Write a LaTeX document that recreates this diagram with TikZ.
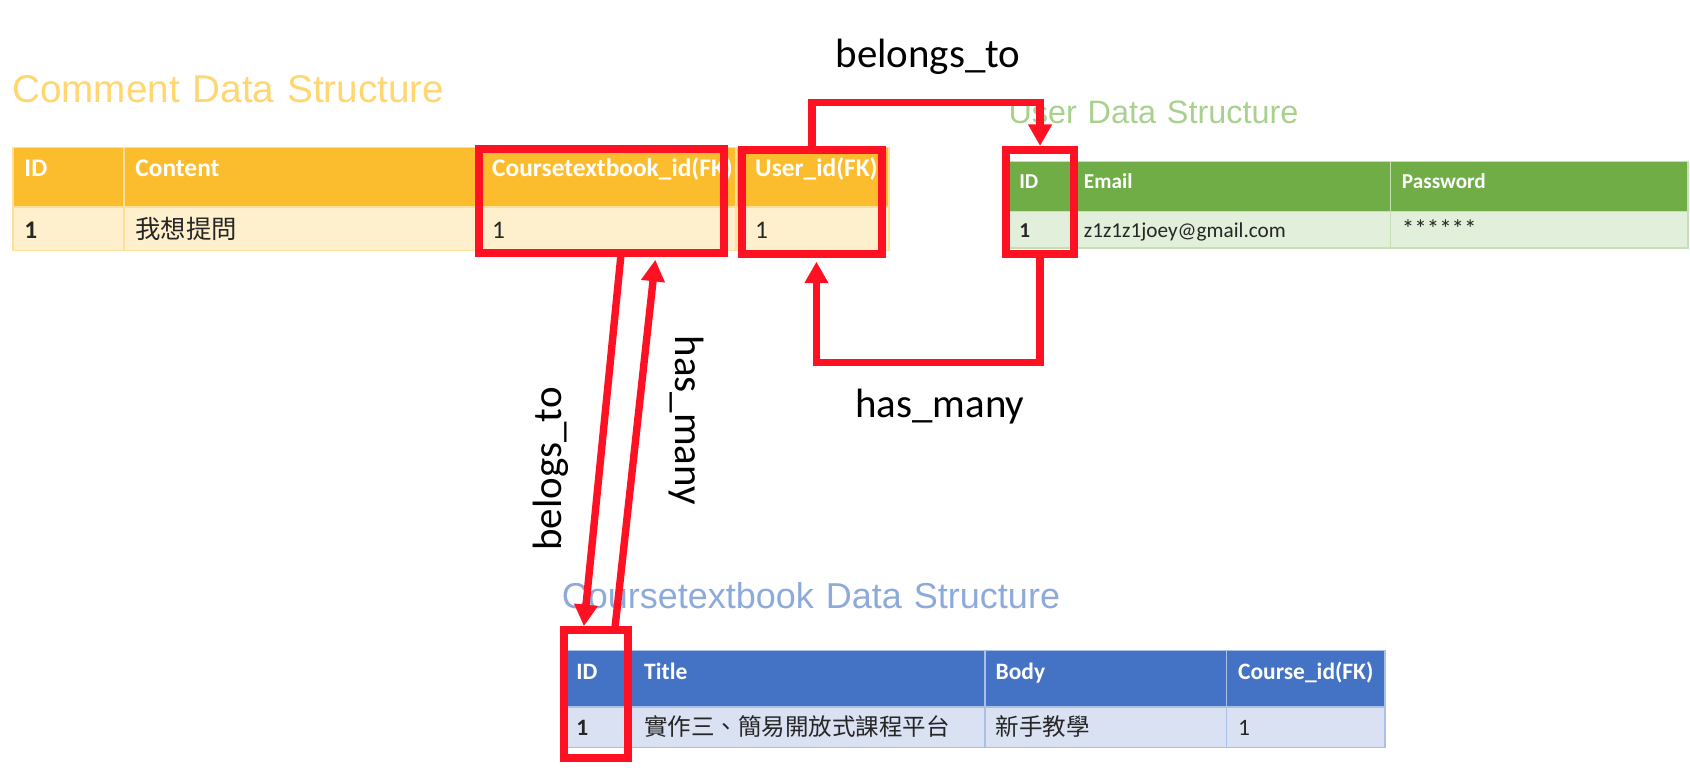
\documentclass[tikz,border=0pt]{standalone}
\usepackage{fontspec}
\setmainfont{Carlito}
\newfontfamily\cmttl[WordSpace=1.7]{Liberation Sans}
\newfontfamily\usttl[WordSpace=2.2]{Liberation Sans}
\newfontfamily\ctttl[WordSpace=1.2]{Liberation Sans}
\newfontfamily\cjk{Noto Sans CJK TC}
\usetikzlibrary{arrows.meta}

\definecolor{cmHead}{RGB}{251,189,46}
\definecolor{cmRow}{RGB}{255,240,205}
\definecolor{cmLine}{RGB}{255,224,150}
\definecolor{cmTitle}{RGB}{255,214,112}
\definecolor{usHead}{RGB}{112,173,71}
\definecolor{usRow}{RGB}{226,239,218}
\definecolor{usLine}{RGB}{197,224,180}
\definecolor{usTitle}{RGB}{169,209,142}
\definecolor{ctHead}{RGB}{68,114,196}
\definecolor{ctRow}{RGB}{217,225,242}
\definecolor{ctLine}{RGB}{172,192,230}
\definecolor{ctTitle}{RGB}{142,170,219}
\definecolor{relRed}{RGB}{255,17,36}
\definecolor{cellText}{RGB}{38,38,38}

\newcommand{\cmtab}{\fontsize{6.7}{8}\selectfont}
\newcommand{\ustab}{\fontsize{5.6}{7}\selectfont}
\newcommand{\cttab}{\fontsize{6.2}{7.5}\selectfont}

\tikzset{
  redbox/.style={draw=relRed,line width=2.1pt,inner sep=0pt},
  rel/.style={draw=relRed,line width=1.95pt,-{Triangle[length=0.2cm,width=0.21cm]}},
  lbl/.style={inner sep=0pt,font=\fontsize{10.8}{13}\selectfont},
  ttl/.style={anchor=base west,inner sep=0pt},
  cmhd/.style={anchor=base west,inner sep=0pt,text=white,font=\cmtab\bfseries},
  cmtx/.style={anchor=base west,inner sep=0pt,text=cellText,font=\cmtab},
  ushd/.style={anchor=base west,inner sep=0pt,text=white,font=\ustab\bfseries},
  ustx/.style={anchor=base west,inner sep=0pt,text=cellText,font=\ustab},
  cthd/.style={anchor=base west,inner sep=0pt,text=white,font=\cttab\bfseries},
  cttx/.style={anchor=base west,inner sep=0pt,text=cellText,font=\cttab}
}

\begin{document}
\begin{tikzpicture}[x=0.01cm,y=-0.01cm]
  \useasboundingbox (0,0) rectangle (1568,716);

  % Comment
  \node[ttl,text=cmTitle,font=\cmttl\fontsize{10.2}{12}\selectfont] (commentTitle) at (10.7,95.2) {Comment Data Structure};
  \filldraw[draw=cmLine,fill=cmHead] (12,137) rectangle (115,192);
  \filldraw[draw=cmLine,fill=cmHead] (115,137) rectangle (445,192);
  \filldraw[draw=cmLine,fill=cmHead] (445,137) rectangle (683,192);
  \filldraw[draw=cmLine,fill=cmHead] (683,137) rectangle (825,192);
  \filldraw[draw=cmLine,fill=cmRow] (12,192) rectangle (115,232.5);
  \filldraw[draw=cmLine,fill=cmRow] (115,192) rectangle (445,232.5);
  \filldraw[draw=cmLine,fill=cmRow] (445,192) rectangle (683,232.5);
  \filldraw[draw=cmLine,fill=cmRow] (683,192) rectangle (825,232.5);
  \node[cmhd] (cmID) at (22,164) {ID};
  \node[cmhd] (cmContent) at (125,164) {Content};
  \node[cmhd] (cmCourse) at (456,164) {Coursetextbook\_id(FK)};
  \node[cmhd] (cmUser) at (700,164) {User\_id(FK)};
  \node[cmtx,font=\cmtab\bfseries] (cmID1) at (22,221) {1};
  \node[cmtx] (cmContent1) at (125,221) {\cjk 我想提問};
  \node[cmtx] (cmCourse1) at (456,221) {1};
  \node[cmtx] (cmUser1) at (700,221) {1};

  % User
  \node[ttl,text=usTitle,font=\usttl\fontsize{8.55}{10}\selectfont] (userTitle) at (935,114.4) {User Data Structure};
  \filldraw[draw=usLine,fill=usHead] (932,150) rectangle (995,196.4);
  \filldraw[draw=usLine,fill=usHead] (995,150) rectangle (1290,196.4);
  \filldraw[draw=usLine,fill=usHead] (1290,150) rectangle (1566,196.4);
  \filldraw[draw=usLine,fill=usRow] (932,196.4) rectangle (995,230);
  \filldraw[draw=usLine,fill=usRow] (995,196.4) rectangle (1290,230);
  \filldraw[draw=usLine,fill=usRow] (1290,196.4) rectangle (1566,230);
  \node[ushd] (usID) at (945,174.7) {ID};
  \node[ushd] (usEmail) at (1005,174.7) {Email};
  \node[ushd] (usPassword) at (1300,174.7) {Password};
  \node[ustx,font=\ustab\bfseries] (usID1) at (945,220) {1};
  \node[ustx] (usEmail1) at (1005,220) {z1z1z1joey@gmail.com};
  \node[ustx,font=\fontsize{6.6}{8}\selectfont] (usPassword1) at (1300,220) {******};

  % Coursetextbook
  \node[ttl,text=ctTitle,font=\ctttl\fontsize{9.5}{11}\selectfont] (courseTitle) at (520.5,564.3) {Coursetextbook Data Structure};
  \filldraw[draw=ctLine,fill=ctHead] (523,603.6) rectangle (580,656);
  \filldraw[draw=ctLine,fill=ctHead] (580,603.6) rectangle (914,656);
  \filldraw[draw=ctLine,fill=ctHead] (914,603.6) rectangle (1138,656);
  \filldraw[draw=ctLine,fill=ctHead] (1138,603.6) rectangle (1285,656);
  \filldraw[draw=ctLine,fill=ctRow] (523,656) rectangle (580,693.6);
  \filldraw[draw=ctLine,fill=ctRow] (580,656) rectangle (914,693.6);
  \filldraw[draw=ctLine,fill=ctRow] (914,656) rectangle (1138,693.6);
  \filldraw[draw=ctLine,fill=ctRow] (1138,656) rectangle (1285,693.6);
  \node[cthd] (ctID) at (534,630) {ID};
  \node[cthd] (ctTitle) at (597,630) {Title};
  \node[cthd] (ctBody) at (923,630) {Body};
  \node[cthd] (ctCourse) at (1148,630) {Course\_id(FK)};
  \node[cttx,font=\cttab\bfseries] (ctID1) at (534,682) {1};
  \node[cttx] (ctTitle1) at (597,682) {\cjk 實作三、簡易開放式課程平台};
  \node[cttx] (ctBody1) at (923,682) {\cjk 新手教學};
  \node[cttx] (ctCourse1) at (1148,682) {1};

  % keys
  \node[redbox,minimum width=2.266cm,minimum height=0.956cm] (fkCourse) at (558,186.5) {};
  \node[redbox,minimum width=1.296cm,minimum height=0.961cm] (fkUser) at (753.5,187.25) {};
  \node[redbox,minimum width=0.626cm,minimum height=0.961cm] (userID) at (965,187.25) {};
  \node[redbox,minimum width=0.591cm,minimum height=1.182cm] (courseID) at (552.75,643.8) {};

  \draw[rel] (fkUser.north) -- ++(0,-40.5) -| (userID.north);
  \draw[rel] (userID.south) -- ++(0,97.4) -| ([xshift=0.4mm,yshift=-0.37mm]fkUser.south);
  \draw[rel] ([xshift=1.8mm]fkCourse.south) -- ([xshift=-1.1mm]courseID.north);
  \draw[rel] ([xshift=1.8mm]courseID.north) -- ([xshift=5mm,yshift=-0.3mm]fkCourse.south);

  \node[lbl,anchor=base] (belongsUser) at (861,63) {belongs\_to};
  \node[lbl,anchor=base] (hasManyUser) at (872,387) {has\_many};
  \node[lbl,anchor=base,rotate=90] (belongsCourse) at (521,435) {belogs\_to};
  \node[lbl,anchor=base,rotate=-90] (hasManyCourse) at (627,390) {has\_many};
\end{tikzpicture}
\end{document}
